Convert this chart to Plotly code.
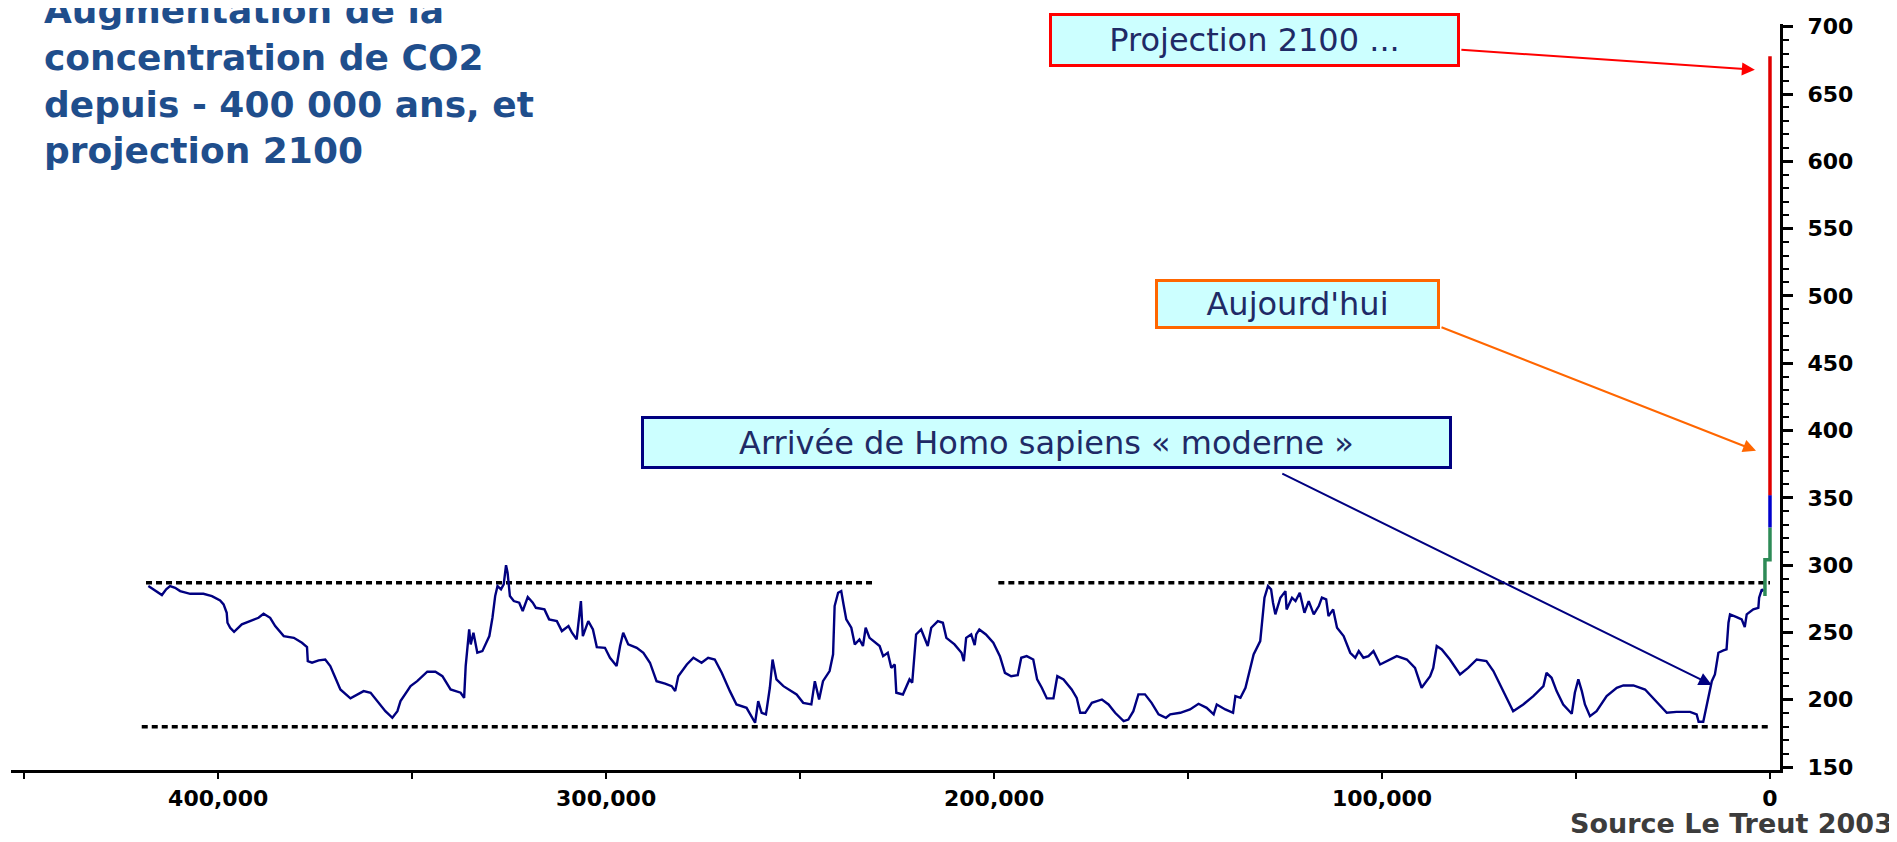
import plotly.graph_objects as go

# ---------------- data ----------------
age_kyr = [418.0, 416.2, 414.5, 413.4, 412.4, 411.1, 409.8, 407.2, 403.8, 401.6, 399.5, 398.6, 397.8, 397.6,
           396.9, 395.9, 393.9, 391.8, 389.6, 388.3, 386.6, 385.3, 383.1, 380.5, 378.4, 377.1, 376.9, 375.8,
           374.1, 372.4, 371.1, 369.8, 368.5, 365.9, 364.2, 362.5, 360.7, 359.0, 356.9, 355.1, 353.8, 353.0,
           350.4, 348.7, 346.1, 344.0, 342.2, 340.1, 337.5, 336.6, 336.2, 335.3, 334.9, 334.2, 333.2, 331.9,
           331.0, 330.1, 329.3, 328.6, 328.0, 327.1, 326.4, 325.8, 325.4, 324.8, 323.8, 322.4, 321.5, 320.2,
           318.9, 318.1, 315.9, 314.7, 312.7, 311.4, 309.7, 308.8, 307.6, 306.5, 306.0, 304.6, 303.4, 302.4,
           300.3, 299.0, 297.3, 296.4, 295.6, 294.3, 292.1, 290.4, 288.7, 287.0, 284.8, 283.1, 282.2, 281.4,
           279.2, 277.5, 275.4, 273.7, 272.0, 270.2, 268.1, 266.4, 263.8, 262.5, 261.6, 260.8, 259.9, 258.8,
           257.8, 257.1, 256.1, 254.3, 253.0, 250.9, 249.2, 247.1, 246.2, 245.1, 244.1, 242.4, 241.5, 241.1,
           240.2, 239.4, 238.8, 238.1, 236.8, 235.9, 234.7, 233.8, 233.1, 232.1, 229.5, 228.6, 227.4, 226.5,
           225.6, 225.2, 223.5, 221.8, 221.1, 220.1, 218.8, 217.1, 216.2, 214.5, 213.2, 212.3, 210.2, 208.4,
           207.8, 207.2, 205.9, 205.0, 204.6, 203.8, 202.1, 200.2, 198.5, 197.2, 195.6, 193.9, 193.0, 191.6,
           189.9, 188.9, 187.7, 186.4, 184.7, 183.7, 182.1, 180.0, 178.7, 177.8, 176.5, 174.8, 172.2, 170.5,
           168.8, 166.6, 165.4, 164.1, 162.8, 161.1, 159.4, 157.6, 155.7, 154.6, 152.0, 149.5, 147.3, 145.2,
           143.4, 142.6, 140.4, 138.4, 137.8, 136.5, 135.2, 133.9, 133.1, 131.4, 130.9, 130.3, 129.4, 128.6,
           128.1, 127.5, 126.2, 124.9, 124.6, 123.2, 122.3, 121.2, 120.0, 118.9, 117.6, 116.3, 115.5, 114.4,
           113.8, 112.6, 111.6, 109.9, 108.2, 106.9, 106.0, 104.8, 103.5, 102.2, 100.5, 98.8, 96.2, 93.6,
           91.5, 89.8, 87.6, 86.8, 85.9, 84.6, 82.5, 79.9, 77.8, 75.6, 73.1, 71.3, 69.6, 67.9,
           66.2, 63.6, 61.0, 58.4, 57.6, 56.3, 55.0, 53.3, 51.1, 50.3, 49.4, 48.5, 47.7, 46.4,
           44.7, 42.1, 39.5, 37.8, 35.2, 32.2, 30.1, 26.6, 24.1, 20.6, 18.9, 18.4, 17.2, 16.3,
           15.5, 15.0, 14.2, 13.3, 12.0, 11.2, 10.7, 10.3, 8.6, 7.3, 6.5, 6.0, 4.3, 3.0,
           2.8, 2.1, 1.7]
co2_ppm = [284.4, 280.7, 277.8, 282.0, 284.4, 283.2, 280.7, 278.7, 278.7, 277.0, 273.8, 270.8, 264.6, 257.2,
           253.5, 250.5, 256.0, 258.4, 260.9, 263.9, 260.9, 254.7, 247.3, 246.0, 242.3, 239.1, 228.7, 227.5,
           229.2, 229.9, 225.0, 216.3, 207.6, 201.0, 203.9, 206.4, 205.2, 199.0, 191.5, 186.6, 191.5, 199.0,
           210.1, 213.8, 220.8, 220.8, 217.5, 207.6, 205.2, 201.4, 225.0, 252.2, 241.1, 249.8, 234.9, 236.1,
           241.1, 247.3, 260.9, 277.0, 284.4, 282.0, 285.7, 300.0, 294.4, 277.0, 273.3, 272.1, 265.9, 276.3,
           272.1, 268.3, 267.1, 259.7, 258.4, 251.0, 254.7, 249.8, 244.8, 273.3, 247.3, 258.4, 252.2, 239.1,
           238.6, 231.2, 225.0, 239.9, 249.8, 241.1, 238.6, 234.9, 227.5, 213.8, 211.9, 210.1, 206.4, 217.5,
           226.2, 231.2, 227.5, 231.2, 229.9, 220.0, 206.4, 196.5, 194.0, 187.8, 182.9, 199.0, 190.3, 189.1,
           208.9, 229.9, 215.1, 210.1, 207.6, 203.9, 197.7, 196.5, 213.8, 200.2, 213.8, 221.3, 233.7, 269.6,
           279.5, 280.7, 270.8, 259.7, 253.5, 241.1, 244.8, 239.9, 253.5, 246.0, 239.9, 232.4, 234.9, 223.7,
           226.2, 205.2, 203.9, 215.1, 212.6, 248.5, 252.2, 239.9, 253.5, 258.4, 257.2, 246.0, 241.1, 234.9,
           228.7, 246.0, 248.5, 240.6, 248.5, 252.2, 248.5, 242.3, 232.4, 220.0, 217.5, 218.3, 231.2, 232.4,
           229.9, 215.1, 208.9, 201.0, 201.0, 217.5, 215.1, 207.6, 201.4, 190.3, 190.3, 197.7, 200.2, 196.5,
           190.3, 184.1, 185.3, 191.5, 204.0, 204.0, 197.7, 189.1, 186.6, 189.1, 190.3, 192.8, 197.0, 194.0,
           189.1, 196.5, 192.8, 190.3, 202.7, 201.4, 208.9, 223.7, 233.7, 243.6, 258.4, 275.8, 284.4, 282.0,
           272.1, 263.4, 275.8, 280.7, 267.1, 275.8, 273.3, 279.5, 264.6, 273.3, 263.4, 269.6, 275.8, 274.5,
           262.1, 267.1, 253.5, 247.3, 234.9, 231.2, 236.1, 231.2, 232.4, 236.1, 226.2, 228.7, 232.4, 229.9,
           223.7, 208.9, 217.5, 223.7, 239.9, 237.4, 229.9, 218.8, 223.7, 229.9, 228.7, 221.3, 211.4, 201.4,
           191.5, 196.5, 202.7, 210.1, 220.0, 216.3, 206.4, 196.5, 189.6, 205.2, 215.1, 206.4, 196.5, 187.8,
           191.5, 202.7, 208.9, 210.6, 210.6, 207.6, 201.4, 190.3, 191.0, 191.0, 189.1, 183.6, 183.6, 196.5,
           207.6, 213.8, 218.8, 234.9, 236.6, 237.4, 257.2, 263.4, 261.4, 259.7, 254.0, 263.4, 267.1, 268.3,
           275.8, 282.0, 280.7]

# recent rise (industrial era), last decades, projection to 2100
green_age = [1.3, 1.3, 0.0, 0.0]
green_co2 = [277, 304, 304, 328]
blue_age = [0.0, 0.0]
blue_co2 = [328, 352]
red_age = [0.0, 0.0]
red_co2 = [352, 678]

# natural range of the last 400 000 years (dashed lines)
upper_a_age = [418.6, 231.3]
upper_b_age = [198.9, 0.0]
upper_level = 287
lower_age = [419.7, 0.5]
lower_level = 180

x_tick_vals = [400000, 300000, 200000, 100000, 0]
x_tick_text = ["400,000", "300,000", "200,000", "100,000", "0"]
y_tick_vals = [150, 200, 250, 300, 350, 400, 450, 500, 550, 600, 650, 700]

title_lines = ["Augmentation de la", "concentration de CO2",
               "depuis - 400 000 ans, et", "projection 2100"]
source_text = "Source Le Treut 2003"

# annotation targets (age kyr, ppm)
proj_target = (3.9, 668)
today_target = (3.6, 385)
homo_target = (15.0, 211)

# ---------------- figure ----------------
# page body has an 8px margin: figure is placed at (8, 8) in the window
OFF = 8
W, H = 1897 - OFF, 842 - 2 * OFF
# plot area in window pixels
PL, PR, PT, PB = 11, 1780, 24, 770


def paper(x, y):
    return (x - PL) / (PR - PL), (PB - y) / (PB - PT)


def yrs(lst):
    return [v * 1000 for v in lst]


fig = go.Figure()

dash = "6px,4px"
for xs in (upper_a_age, upper_b_age):
    fig.add_trace(go.Scatter(x=yrs(xs), y=[upper_level] * 2, mode="lines",
                             line=dict(color="black", width=3.5, dash=dash)))
fig.add_trace(go.Scatter(x=yrs(lower_age), y=[lower_level] * 2, mode="lines",
                         line=dict(color="black", width=3.5, dash=dash)))

fig.add_trace(go.Scatter(x=yrs(age_kyr), y=co2_ppm, mode="lines",
                         line=dict(color="#000080", width=2.4)))
fig.add_trace(go.Scatter(x=yrs(green_age), y=green_co2, mode="lines",
                         line=dict(color="#2E8B57", width=3.5)))
fig.add_trace(go.Scatter(x=yrs(blue_age), y=blue_co2, mode="lines",
                         line=dict(color="#0000CC", width=3.5)))
fig.add_trace(go.Scatter(x=yrs(red_age), y=red_co2, mode="lines",
                         line=dict(color="#E00000", width=3.5)))

annotations = []

# title (one block, 4 lines)
xp, yp = paper(42, 80)
annotations.append(dict(text="<br>".join(title_lines), x=xp, y=yp, xref="paper", yref="paper",
                        xanchor="left", yanchor="middle", align="left", showarrow=False,
                        font=dict(family="DejaVu Sans", size=36, color="#1F4E8C", weight="bold")))

# boxes
box_font = dict(family="DejaVu Sans", size=32, color="#1F2A66")
boxes = [
    ("Projection 2100 ...", 1049, 1460, 13, 67, "#FF0000"),
    ("Aujourd'hui", 1155, 1440, 279, 329, "#FF6600"),
    ("Arrivée de Homo sapiens « moderne »", 641, 1452, 416, 469, "#000080"),
]
for text, x0, x1, y0, y1, col in boxes:
    xp, yp = paper((x0 + x1) / 2, (y0 + y1) / 2)
    annotations.append(dict(text=text, x=xp, y=yp, xref="paper", yref="paper",
                            xanchor="center", yanchor="middle", showarrow=False,
                            width=x1 - x0 - 6, height=y1 - y0 - 6, borderpad=0,
                            bordercolor=col, borderwidth=3, bgcolor="#CCFFFF",
                            font=box_font, align="center", valign="middle"))

# arrows
arrows = [
    (proj_target, -295, -20, "#FF0000"),
    (today_target, -316, -124, "#FF6600"),
    (homo_target, -431, -212, "#000080"),
]
for (age, ppm), ax, ay, col in arrows:
    annotations.append(dict(text="", x=age * 1000, y=ppm, xref="x", yref="y",
                            showarrow=True, ax=ax, ay=ay, axref="pixel", ayref="pixel",
                            arrowhead=2, arrowsize=1.3, arrowwidth=2, arrowcolor=col,
                            standoff=0, startstandoff=0))

# source
xp, yp = paper(1895, 806)
annotations.append(dict(text=source_text, x=xp, y=yp, xref="paper", yref="paper",
                        xanchor="right", yanchor="top", showarrow=False,
                        font=dict(family="DejaVu Sans", size=27, color="#3C3C3C", weight="bold")))

fig.update_layout(
    width=W, height=H,
    margin=dict(l=PL - OFF, r=(W + OFF) - PR, t=PT - OFF, b=(H + OFF) - PB, pad=0),
    paper_bgcolor="white", plot_bgcolor="white",
    showlegend=False,
    annotations=annotations,
    xaxis=dict(range=[453400, -2580], showgrid=False, zeroline=False,
               showline=True, linecolor="black", linewidth=3,
               tickmode="array", tickvals=x_tick_vals, ticktext=x_tick_text,
               ticks="outside", ticklen=6, tickwidth=2, tickcolor="black",
               minor=dict(tickmode="linear", tick0=0, dtick=50000, ticks="outside",
                          ticklen=6, tickwidth=2, tickcolor="black"),
               tickfont=dict(family="DejaVu Sans", size=22, color="black", weight="bold"),
               ticklabelstandoff=1),
    yaxis=dict(range=[147.8, 702], side="right", showgrid=False, zeroline=False,
               showline=True, linecolor="black", linewidth=3,
               tickmode="array", tickvals=y_tick_vals,
               ticks="outside", ticklen=10, tickwidth=2.5, tickcolor="black",
               minor=dict(tickmode="linear", tick0=150, dtick=10, ticks="outside",
                          ticklen=6, tickwidth=2, tickcolor="black"),
               tickfont=dict(family="DejaVu Sans", size=22, color="black", weight="bold"),
               ticklabelstandoff=10),
)

fig.write_html("out.html")
